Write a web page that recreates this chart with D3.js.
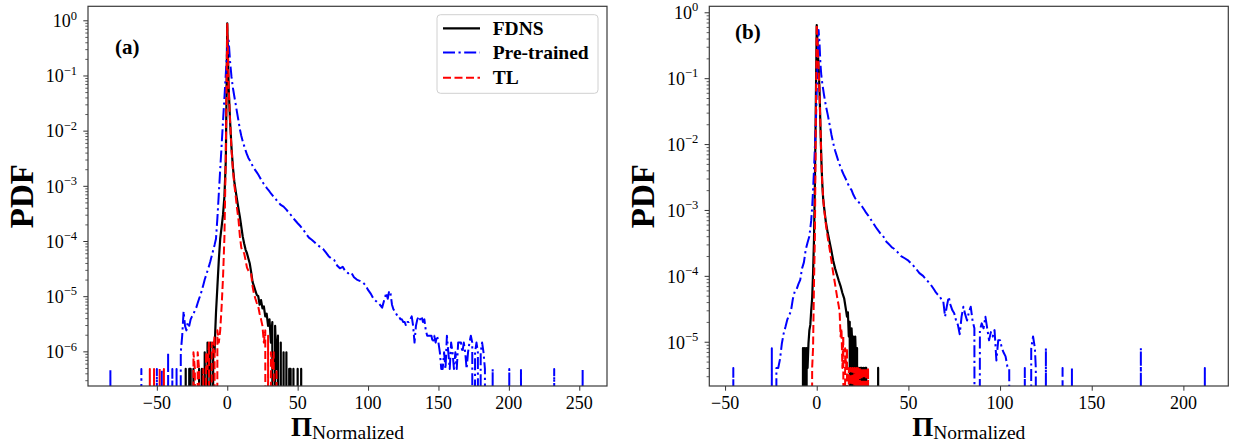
<!DOCTYPE html>
<html><head><meta charset="utf-8">
<script src="https://cdn.jsdelivr.net/npm/d3@7"></script>
<style>body{margin:0;background:#fff}svg{display:block}</style>
</head><body>
<svg id="c" width="1233" height="447"></svg>
<script>
// ---------------- DATA ----------------
const seriesNames = ["FDNS", "Pre-trained", "TL"];
const xTicksA = [-50, 0, 50, 100, 150, 200, 250];
const xTicksB = [-50, 0, 50, 100, 150, 200];
const yExpA = [0, -1, -2, -3, -4, -5, -6];
const yExpB = [0, -1, -2, -3, -4, -5];
const panelLabels = ["(a)", "(b)"];

// panel (a): [Pi_normalized, PDF]
const fdnsA = [[-30,0],[-29.5,4.8e-7],[-29,0],[-27.5,0],[-27,4.8e-7],[-26,4.8e-7],[-25.5,0],[-24.5,0],[-24,4.8e-7],[-23.5,0],
[-21,0],[-20,4.8e-7],[-19,0],[-18,4.8e-7],[-17,0],[-16,9.6e-7],[-15,0],[-14,1.44e-6],[-13,4.8e-7],[-12,1.44e-6],[-11,0],[-10,1.44e-6],[-9,9.6e-7],[-8.5,2.4e-6],
[-8,5e-6],[-7,1.5e-5],[-6,4.5e-5],[-5,1.1e-4],[-4,1.8e-4],[-3,3e-4],[-2,6.5e-4],[-1,3e-3],[0,0.88],[1,0.06],[2,1.5e-2],[3,5e-3],[4,2.2e-3],[5,1.2e-3],
[6,8e-4],[7,5.5e-4],[8,3.8e-4],[9,2.7e-4],[10,1.8e-4],[11,1.2e-4],[12,9e-5],[13,7e-5],[14,6e-5],[15,4.8e-5],[16,3.9e-5],[17,2.7e-5],[18,1.8e-5],[19,1.5e-5],
[20,1.25e-5],[21,1.05e-5],[22,1e-5],[23,7e-6],[24,8.5e-6],[25,6e-6],[26,6.5e-6],[27,4.3e-6],[28,4.8e-6],[29,2.9e-6],[30,3.8e-6],[31,1.44e-6],[32,3.4e-6],
[33,0],[34,2.9e-6],[35,4.8e-7],[36,1.92e-6],[37,0],[38,1.44e-6],[39,0],[40,9.6e-7],[41,0],[42,9.6e-7],[43,0],[44,4.8e-7],[45,4.8e-7],[46,0],[47,4.8e-7],[48,0],
[49.5,0],[50,4.8e-7],[50.5,0],[52,0],[52.5,4.8e-7],[53,0]];

const pretrainedA = [[-83.5,0],[-83,4.8e-7],[-82.5,0],[-61.5,0],[-61,4.8e-7],[-60.5,0],[-50.5,0],[-50,4.8e-7],[-49.5,0],[-47,0],[-46.5,4.8e-7],[-46,0],
[-42.5,0],[-42,9.6e-7],[-41.5,0],[-39.5,0],[-39,4.8e-7],[-38.5,0],[-36.5,0],[-36,4.8e-7],[-35.5,0],[-34,0],[-33,9.6e-7],[-32,1.92e-6],[-31,5.3e-6],
[-30,2.9e-6],[-29,2.4e-6],[-28,3.4e-6],[-27,2.9e-6],[-26,3.8e-6],[-25,4.3e-6],[-24,4.8e-6],[-23,5.5e-6],[-22,6.2e-6],[-21,7.5e-6],[-20,9e-6],[-19,1.05e-5],
[-18,1.3e-5],[-17,1.6e-5],[-16,2e-5],[-15,2.4e-5],[-14,2.9e-5],[-13,3.5e-5],[-12,4.3e-5],[-11,5.4e-5],[-10,6.8e-5],[-9,8.5e-5],[-8,1.1e-4],[-7,2.6e-4],
[-6,7.2e-4],[-5,2e-3],[-4,5.4e-3],[-3,1.5e-2],[-2,4e-2],[-1,0.11],[0,0.3],[1,0.43],[2,0.18],[3,0.095],[4,0.06],[5,0.042],[6,0.03],[7,0.021],[8,0.015],
[9,0.0105],[10,0.008],[11,0.0064],[12,0.0053],[13,0.0044],[14,0.0037],[15,0.0032],[16,0.0029],[17,0.0026],[18,0.0023],[19,0.0021],[20,0.0019],[21,0.00175],
[22,0.0016],[23,0.00145],[24,0.0013],[25,0.00118],[26,0.00108],[27,0.001],[28,0.00092],[29,0.00085],[30,0.00079],[31,0.00073],[32,0.00068],[33,0.00063],
[34,0.00059],[35,0.00055],[36,0.00051],[37,0.00048],[38,0.00045],[40,4.2e-4],[42,3.7e-4],[44,3.2e-4],[46,2.8e-4],[48,2.4e-4],[50,2.1e-4],[52,1.85e-4],
[54,1.6e-4],[56,1.35e-4],[58,1.15e-4],[60,1.05e-4],[62,9.5e-5],[64,8.5e-5],[66,7.8e-5],[68,7.2e-5],[70,6.2e-5],[72,5.3e-5],[74,4.8e-5],[76,4.5e-5],
[78,3.6e-5],[80,3.2e-5],[82,3.4e-5],[84,2.8e-5],[86,2.6e-5],[88,2.7e-5],[90,2.2e-5],[92,2e-5],[94,1.9e-5],[96,1.8e-5],[98,1.6e-5],[100,1.3e-5],[102,1.1e-5],
[104,8.8e-6],[106,8e-6],[108,7.2e-6],[110,6.2e-6],[112,9.5e-6],[113,1.15e-5],[114,9e-6],[115,1.25e-5],[116,1.1e-5],[117,7e-6],[118,5.8e-6],[119,5.3e-6],
[120,4.8e-6],[121,4.3e-6],[122,4.3e-6],[123,3.8e-6],[124,3.8e-6],[125,3.4e-6],[126,3.4e-6],[127,2.9e-6],[128,3.4e-6],[129,3.4e-6],[130,3.8e-6],[131,4.3e-6],
[132,2.9e-6],[133,1.44e-6],[134,2.9e-6],[135,3.8e-6],[136,4.3e-6],[137,3.8e-6],[138,4.3e-6],[139,3.4e-6],[140,3.8e-6],[141,2.4e-6],[142,1.92e-6],
[143,1.92e-6],[144,1.92e-6],[145,1.92e-6],[146,1.44e-6],[147,1.92e-6],[148,1.44e-6],[149,1.92e-6],[150,1.44e-6],[151,9.6e-7],[152,4.8e-7],[153,4.8e-7],
[154,9.6e-7],[155,4.8e-7],[156,1.92e-6],[157,9.6e-7],[158,4.8e-7],[159,1.44e-6],[160,9.6e-7],[161,4.8e-7],[162,9.6e-7],[163,4.8e-7],[164,1.44e-6],
[165,1.44e-6],[166,1.44e-6],[167,9.6e-7],[168,1.44e-6],[169,9.6e-7],[170,4.8e-7],[171,9.6e-7],[172,1.44e-6],[173,1.92e-6],[174,1.44e-6],[175,0],[176,9.6e-7],
[177,1.44e-6],[178,9.6e-7],[179,0],[180,9.6e-7],[181,1.44e-6],[182,9.6e-7],[183,4.8e-7],[184,0],[188,0],[188.5,4.8e-7],[189,0],[199.8,0],[200.3,4.8e-7],
[200.8,0],[208.1,0],[208.6,4.8e-7],[209.1,0],[231.7,0],[232.2,4.8e-7],[232.7,0],[251.9,0],[252.4,4.8e-7],[252.9,0]];

const tlA = [[-55.5,0],[-55,4.8e-7],[-54.5,0],[-52.5,0],[-52,4.8e-7],[-51.5,0],[-48.5,0],[-48,4.8e-7],[-47.5,0],[-45.5,0],[-45,4.8e-7],[-44.5,0],
[-25,0],[-24,9.6e-7],[-23,4.8e-7],[-22,0],[-21,9.6e-7],[-20,4.8e-7],[-19,0],[-17.5,0],[-17,4.8e-7],[-16,0],[-15,9.6e-7],[-14,4.8e-7],[-13,1.44e-6],[-12,0],
[-11,1.44e-6],[-10,9.6e-7],[-9,1.92e-6],[-8,0],[-7,2.4e-6],[-6,1.44e-6],[-5,2.4e-6],[-4,6.5e-6],[-3,2.2e-5],[-2,1.2e-4],[-1,4e-3],[0,0.86],[1,0.06],
[2,1.5e-2],[3,4.6e-3],[4,2e-3],[5,1.05e-3],[6,6.5e-4],[7,3.8e-4],[8,2.4e-4],[9,1.2e-4],[10,7.5e-5],[11,6.5e-5],[12,6e-5],[13,4.5e-5],[14,3.3e-5],[15,2.9e-5],
[16,2.7e-5],[17,2.5e-5],[18,1.5e-5],[19,1.1e-5],[20,9e-6],[21,7.5e-6],[22,6.5e-6],[23,4.8e-6],[24,3.8e-6],[25,2.9e-6],[26,1.44e-6],[27,2.4e-6],[28,0],
[29,1.92e-6],[30,0],[31,9.6e-7],[32,4.8e-7],[33,9.6e-7],[34,0],[35,4.8e-7],[35.5,0]];

// panel (b)
const fdnsB = [[-8,0],[-7.5,8e-6],[-7,4e-6],[-6.5,8e-6],[-6,0],[-5.5,8e-6],[-5,4e-6],[-4.5,9.5e-6],[-4,1.5e-5],[-3.5,1.8e-5],[-3,3e-5],[-2.5,4.5e-5],
[-2,1.1e-4],[-1.5,3.5e-4],[-1,2.5e-3],[-0.5,0.04],[0,0.64],[0.5,0.3],[1,0.15],[1.5,0.07],[2,0.02],[2.5,6e-3],[3,2.6e-3],[3.5,1.5e-3],[4,1.1e-3],[5,6.5e-4],
[6,4.5e-4],[7,3.3e-4],[8,2.4e-4],[9,1.7e-4],[10,1.3e-4],[11,1.05e-4],[12,8.5e-5],[13,7e-5],[14,5.5e-5],[15,4.5e-5],[16,3e-5],[16.5,2.4e-5],[17,2.8e-5],
[17.5,1.2e-5],[18,2e-5],[18.5,0],[19,1.6e-5],[19.5,8e-6],[20,1.2e-5],[20.5,0],[21,1.2e-5],[21.5,4e-6],[22,8e-6],[22.5,0],[23,4e-6],[23.5,0],[24,4e-6],
[24.5,4e-6],[25,0],[25.5,4e-6],[26,0],[26.5,4e-6],[27,4e-6],[27.5,0],[33,0],[33.5,4e-6],[34,0]];

const pretrainedB = [[-46,0],[-45.5,4e-6],[-45,0],[-25,0],[-24.5,8e-6],[-24,0],[-22.5,0],[-22,4e-6],[-21,4e-6],[-20,5.5e-6],[-19,9.5e-6],[-18,1.35e-5],
[-17,1.7e-5],[-16,2.2e-5],[-15,2.5e-5],[-14,3e-5],[-13,4.5e-5],[-12,5.8e-5],[-11,6.2e-5],[-10,7.5e-5],[-9,8.7e-5],[-8,1.3e-4],[-7,1.6e-4],[-6,2.5e-4],
[-5,3.2e-4],[-4,4e-4],[-3,7e-4],[-2.5,1.1e-3],[-2,2e-3],[-1.5,4e-3],[-1,9e-3],[-0.5,0.02],[0,0.06],[0.5,0.2],[1,0.54],[1.5,0.35],[2,0.17],[2.5,0.11],
[3,0.085],[4,0.055],[5,0.038],[6,0.028],[7,0.02],[8,0.014],[9,0.0103],[10,0.008],[11,0.0065],[12,0.0053],[13,0.0045],[14,0.0038],[15,0.0033],[16,0.0029],
[17,0.0025],[18,0.0022],[19,0.002],[20,0.0017],[21,0.0015],[22,0.0014],[23,0.0013],[24,0.0012],[25,0.0011],[26,0.001],[27,9e-4],[28,8.3e-4],[29,7.6e-4],
[30,6.8e-4],[31,6.2e-4],[32,5.6e-4],[33,5.1e-4],[34,4.7e-4],[35,4.3e-4],[36,4.1e-4],[37,3.7e-4],[38,3.3e-4],[39,3.1e-4],[40,2.9e-4],[41,2.7e-4],[42,2.6e-4],
[43,2.4e-4],[44,2.3e-4],[46,2e-4],[48,1.85e-4],[50,1.7e-4],[52,1.5e-4],[54,1.3e-4],[56,1.1e-4],[58,1e-4],[60,8.6e-5],[62,7.5e-5],[64,6.2e-5],[65,5.6e-5],
[66,5.2e-5],[67,4.9e-5],[68,4.4e-5],[69,4.2e-5],[70,2.4e-5],[71,3.5e-5],[72,4.8e-5],[73,3.6e-5],[74,3e-5],[75,2.7e-5],[76,2.1e-5],[77,1.8e-5],[78,1.3e-5],
[79,2.4e-5],[80,3.4e-5],[81,2.6e-5],[82,2.1e-5],[83,2.8e-5],[84,3.4e-5],[85,2.1e-5],[86,1.6e-5],[87,0],[88,0],[89,1.5e-5],[90,1.9e-5],[91,1.6e-5],
[92,2.4e-5],[93,1.6e-5],[94,1.05e-5],[95,1.4e-5],[96,1.2e-5],[97,1.5e-5],[98,5.2e-6],[99,1.05e-5],[100,1.05e-5],[101,8e-6],[102,6.8e-6],[103,6e-6],
[104,4.2e-6],[105,4e-6],[106,0],[113,0],[113.5,4e-6],[114,0],[116.5,0],[117,8e-6],[118,1.2e-5],[119,8e-6],[119.5,4e-6],[120,0],[124.5,0],[125,8e-6],
[125.5,0],[133.6,0],[134.1,4e-6],[134.6,0],[138.7,0],[139.2,4e-6],[139.7,0],[176.3,0],[176.8,8e-6],[177.3,0],[211.2,0],[211.7,4e-6],[212.2,0]];

const tlB = [[-3,0],[-2.5,4e-6],[-2,8e-6],[-1.5,7.5e-5],[-1,4e-4],[-0.5,2e-2],[0,0.65],[0.5,0.3],[1,0.14],[1.5,0.06],[2,0.02],[2.5,6e-3],[3,2.6e-3],
[3.5,1.5e-3],[4,1.05e-3],[5,6e-4],[6,3.8e-4],[7,2.6e-4],[8,1.7e-4],[9,1.1e-4],[10,7.5e-5],[11,5e-5],[12,3.5e-5],[12.5,2.8e-5],[13,1.2e-5],[13.5,1.6e-5],
[14,4e-6],[14.5,1.2e-5],[15,0],[15.5,8e-6],[16,4e-6],[16.5,8e-6],[17,0],[17.5,4e-6],[18,0],[18.5,4e-6],[19,0],[19.5,4e-6],[20,0],[20.5,4e-6],[21,0],
[21.5,4e-6],[22,0],[22.5,4e-6],[23,0],[23.5,4e-6],[24,0],[24.5,4e-6],[25,0],[25.5,4e-6],[26,4e-6],[26.5,0],[27,4e-6],[27.5,0],[28,4e-6],[28.5,0]];

// ---------------- DRAWING ----------------
const svg = d3.select("#c");
const SERIF = "'Liberation Serif','Times New Roman',serif";
const styles = [
  {color: "#000000", width: 2.2, dash: null},
  {color: "#0000ff", width: 2, dash: "12,3.5,2.2,3.5"},
  {color: "#ff0000", width: 2, dash: "8,3.5"}
];

const panels = [
  {id: "a", left: 88, right: 607, top: 6.3, bottom: 386, xDom: [-98.9, 269.7], yDom: [2.355e-7, 1.794],
   xTicks: xTicksA, yExp: yExpA, series: [fdnsA, pretrainedA, tlA], label: panelLabels[0], lx: 115, ly: 53.5, legend: true},
  {id: "b", left: 709.3, right: 1228.3, top: 6.3, bottom: 386, xDom: [-58.6, 224.5], yDom: [2.13e-6, 1.233],
   xTicks: xTicksB, yExp: yExpB, series: [fdnsB, pretrainedB, tlB], label: panelLabels[1], lx: 735, ly: 38.7, legend: false}
];

panels.forEach(p => {
  const x = d3.scaleLinear().domain(p.xDom).range([p.left, p.right]);
  const y = d3.scaleLog().domain(p.yDom).range([p.bottom, p.top]);
  const g = svg.append("g");

  g.append("clipPath").attr("id", "clip-" + p.id)
    .append("rect").attr("x", p.left).attr("y", p.top)
    .attr("width", p.right - p.left).attr("height", p.bottom - p.top);

  const line = d3.line()
    .x(d => x(d[0]))
    .y(d => d[1] > 0 ? y(d[1]) : y(1e-30));

  const lg = g.append("g").attr("clip-path", "url(#clip-" + p.id + ")");
  p.series.forEach((s, i) => {
    const st = styles[i];
    lg.append("path").datum(s).attr("d", line)
      .attr("fill", "none").attr("stroke", st.color).attr("stroke-width", st.width)
      .attr("stroke-linejoin", "round")
      .attr("stroke-dasharray", st.dash);
  });

  // y axis (log) with minor ticks
  const yAxis = d3.axisLeft(y)
    .tickValues(p.yExp.map(e => Math.pow(10, e)))
    .tickSize(4.7).tickFormat("");
  g.append("g").attr("transform", `translate(${p.left},0)`).call(yAxis)
    .call(a => a.select(".domain").remove())
    .call(a => a.selectAll("line").attr("stroke", "#333").attr("stroke-width", 1));
  const minors = [];
  const eMin = Math.floor(Math.log10(p.yDom[0])), eMax = Math.ceil(Math.log10(p.yDom[1]));
  for (let e = eMin; e <= eMax; e++) for (let m = 2; m <= 9; m++) {
    const v = m * Math.pow(10, e);
    if (v >= p.yDom[0] && v <= p.yDom[1]) minors.push(v);
  }
  g.append("g").attr("transform", `translate(${p.left},0)`)
    .call(d3.axisLeft(y).tickValues(minors).tickSize(2.7).tickFormat(""))
    .call(a => a.select(".domain").remove())
    .call(a => a.selectAll("line").attr("stroke", "#333").attr("stroke-width", 0.8));

  // y tick labels 10^e
  p.yExp.forEach(e => {
    const t = g.append("text").attr("x", p.left - 11).attr("y", y(Math.pow(10, e)) + 6.8)
      .attr("text-anchor", "end").attr("font-family", SERIF).attr("font-size", 18).attr("fill", "#000");
    t.append("tspan").text("10");
    t.append("tspan").attr("dy", -7.6).attr("font-size", 12.5).text(e === 0 ? "0" : "\u2212" + (-e));
  });

  // x axis
  g.append("g").attr("transform", `translate(0,${p.bottom})`)
    .call(d3.axisBottom(x).tickValues(p.xTicks).tickSize(4.7).tickFormat(""))
    .call(a => a.select(".domain").remove())
    .call(a => a.selectAll("line").attr("stroke", "#333").attr("stroke-width", 1));
  p.xTicks.forEach(v => {
    g.append("text").attr("x", x(v)).attr("y", 409.3).attr("text-anchor", "middle")
      .attr("font-family", SERIF).attr("font-size", 18).attr("fill", "#000")
      .text(v < 0 ? "\u2212" + (-v) : String(v));
  });

  // frame
  g.append("rect").attr("x", p.left).attr("y", p.top)
    .attr("width", p.right - p.left).attr("height", p.bottom - p.top)
    .attr("fill", "none").attr("stroke", "#3a3a3a").attr("stroke-width", 1.2);

  // axis labels
  const cx = (p.left + p.right) / 2, cy = (p.top + p.bottom) / 2;
  const xl = g.append("text").attr("x", cx).attr("y", 435.5).attr("text-anchor", "middle")
    .attr("font-family", SERIF).attr("fill", "#000");
  xl.append("tspan").attr("font-weight", "bold").attr("font-size", 27).text("\u03A0");
  xl.append("tspan").attr("font-size", 19.5).attr("dy", 3.5).text("Normalized");

  g.append("text").attr("transform", `translate(${p.left - 55},${cy}) rotate(-90)`)
    .attr("text-anchor", "middle").attr("font-family", SERIF).attr("font-weight", "bold")
    .attr("font-size", 33).attr("fill", "#000").text("PDF");

  // panel label
  g.append("text").attr("x", p.lx).attr("y", p.ly).attr("font-family", SERIF)
    .attr("font-weight", "bold").attr("font-size", 21).attr("fill", "#000").text(p.label);

  // legend
  if (p.legend) {
    const lgd = g.append("g");
    lgd.append("rect").attr("x", 437).attr("y", 14.7).attr("width", 161).attr("height", 78.6)
      .attr("rx", 3.5).attr("fill", "#fff").attr("fill-opacity", 0.8)
      .attr("stroke", "#d0d0d0").attr("stroke-width", 1);
    const ys = [28.3, 52.6, 77.8];
    seriesNames.forEach((n, i) => {
      const st = styles[i];
      lgd.append("line").attr("x1", 443).attr("x2", 480).attr("y1", ys[i]).attr("y2", ys[i])
        .attr("stroke", st.color).attr("stroke-width", st.width).attr("stroke-dasharray", st.dash);
      lgd.append("text").attr("x", 492.7).attr("y", ys[i] + 6.6).attr("font-family", SERIF)
        .attr("font-weight", "bold").attr("font-size", 19.5).attr("fill", "#000").text(n);
    });
  }
});
</script>
</body></html>
